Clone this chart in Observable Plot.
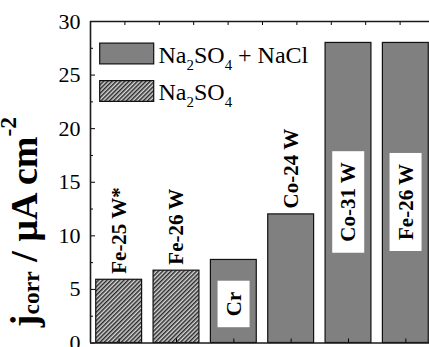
<!DOCTYPE html>
<html>
<head>
<meta charset="utf-8">
<script src="https://cdn.jsdelivr.net/npm/d3@7"></script>
<script src="https://cdn.jsdelivr.net/npm/@observablehq/plot@0.6"></script>
<style>
  html, body { margin: 0; padding: 0; background: #fff; }
  #wrap { position: relative; width: 429px; height: 347px; overflow: hidden; }
  #ytitle {
    position: absolute; left: 5px; top: 222px;
    transform: translate(0, -50%) rotate(180deg);
    writing-mode: vertical-rl; white-space: nowrap;
    font: bold 38px "Liberation Serif", serif; line-height: 1; color: #000;
  }
  #ytitle sub, #ytitle sup { font-size: 62%; line-height: 0; }
  #ytitle sub { vertical-align: -0.3em; }
  #ytitle sup { vertical-align: 0.7em; }
</style>
</head>
<body>
<div id="wrap">
  <div id="ytitle"></div>
  <div id="chart"></div>
</div>
<script>
// Corrosion current density of the coatings in the two test solutions
const alloys      = ["Fe-25 W*", "Fe-26 W", "Cr", "Co-24 W", "Co-31 W", "Fe-26 W"];
const solutions   = ["Na_{2}SO_{4}", "Na_{2}SO_{4}", "Na_{2}SO_{4} + NaCl", "Na_{2}SO_{4} + NaCl", "Na_{2}SO_{4} + NaCl", "Na_{2}SO_{4} + NaCl"];
const jcorr       = [5.9, 6.75, 7.75, 12, 28, 28];
const labelInside = [false, false, true, false, true, true];

const legendEntries = ["Na_{2}SO_{4} + NaCl", "Na_{2}SO_{4}"];
const yTicks      = [0, 5, 10, 15, 20, 25, 30];
const yMinorTicks = [2.5, 7.5, 12.5, 17.5, 22.5, 27.5];
const topTicks    = [0.6, 1.2, 1.8, 2.4, 3.0, 3.6, 4.2, 4.8, 5.4];
const yTitle      = "j_{corr} / \u00B5A cm^{-2}";

const bars = alloys.map((name, i) => ({
  name, i, value: jcorr[i], solution: solutions[i], inside: labelInside[i]
}));
const positions = bars.map(d => d.i + 0.5);

const serif = "Liberation Serif";
const SVGNS = "http://www.w3.org/2000/svg";

// split "_{..}" / "^{..}" markup into plain, sub and sup pieces
function pieces(s) {
  const out = [], re = /([_^])\{([^}]*)\}|([^_^]+)/g;
  let m;
  while ((m = re.exec(s))) out.push(m[1] ? { kind: m[1] === "_" ? "sub" : "sup", text: m[2] } : { kind: "", text: m[3] });
  return out;
}

// y-axis title, set as rotated HTML text beside the plot
const title = document.getElementById("ytitle");
for (const p of pieces(yTitle)) {
  if (p.kind) { const el = document.createElement(p.kind); el.textContent = p.text; title.appendChild(el); }
  else title.appendChild(document.createTextNode(p.text));
}

// rectangular swatch for the legend
const swatch = { draw(ctx) { ctx.rect(-27, -10.3, 54, 20.6); } };

const plot = Plot.plot({
  width: 429,
  height: 347,
  marginLeft: 90,
  marginRight: 0,
  marginTop: 21,
  marginBottom: 4.5,
  style: { fontFamily: serif, fontSize: "22px", background: "transparent", color: "#000" },
  x: { domain: [0, 6], range: [90, 434], label: null },
  y: { domain: [0, 30], label: null },
  color: { domain: legendEntries, range: ["#808080", "url(#hatch)"] },
  marks: [
    Plot.rect(bars, {
      x1: d => d.i + 0.1, x2: d => d.i + 0.9, y1: 0, y2: "value",
      fill: "solution", stroke: "#111", strokeWidth: 1.2
    }),
    // labels above the shorter bars
    Plot.text(bars.filter(d => !d.inside), {
      x: d => d.i + 0.5, y: "value", text: "name",
      rotate: -90, textAnchor: "start", lineAnchor: "middle", dy: -6,
      fontWeight: "bold", fontSize: 21, fontFamily: serif, fill: "#000"
    }),
    // labels set in white boxes inside the bars
    Plot.text(bars.filter(d => d.inside), {
      x: d => d.i + 0.5, y: d => d.value * 0.47, text: "name",
      rotate: -90, textAnchor: "middle", lineAnchor: "middle",
      fontWeight: "bold", fontSize: 21, fontFamily: serif, fill: "#000",
      ariaDescription: "inside-label"
    }),
    // legend
    ...legendEntries.map((s, k) => Plot.dot([s], {
      frameAnchor: "top-left", dx: 36.2, dy: 32 + k * 37.5,
      symbol: swatch, r: 10, fill: d => d, stroke: "#111", strokeWidth: 1.2
    })),
    ...legendEntries.map((s, k) => Plot.text([s], {
      frameAnchor: "top-left", dx: 68, dy: 41 + k * 37.5,
      text: d => d, textAnchor: "start", lineAnchor: "bottom",
      fontSize: 24, fontFamily: serif, fill: "#000"
    })),
    // axes with inward ticks
    Plot.axisY({ ticks: yTicks, tickSize: -5, tickPadding: 15, fontSize: 22, fontFamily: serif, label: null }),
    Plot.axisY({ ticks: yMinorTicks, tickSize: -3, tickFormat: () => "", label: null }),
    Plot.axisX({ anchor: "bottom", ticks: positions, tickSize: -4, tickFormat: () => "", label: null }),
    Plot.axisX({ anchor: "top", ticks: topTicks, tickSize: -3, tickFormat: () => "", label: null }),
    // axis lines
    Plot.ruleX([0], { stroke: "#1a1a1a", strokeWidth: 1.6 }),
    Plot.ruleY([0, 30], { stroke: "#1a1a1a", strokeWidth: 1.6 })
  ]
});

document.getElementById("chart").appendChild(plot);
const svg = d3.select(plot);

// diagonal hatch used for the Na2SO4 bars
const defs = svg.insert("defs", ":first-child");
const pat = defs.append("pattern")
  .attr("id", "hatch").attr("patternUnits", "userSpaceOnUse")
  .attr("width", 3).attr("height", 3).attr("patternTransform", "rotate(45)");
pat.append("rect").attr("width", 3).attr("height", 3).attr("fill", "#d6d6d6");
pat.append("line").attr("x1", 0.75).attr("y1", 0).attr("x2", 0.75).attr("y2", 3)
  .attr("stroke", "#2a2a2a").attr("stroke-width", 1.5);

// sub- and superscripts inside the SVG labels
plot.querySelectorAll("text").forEach(t => {
  const s = t.textContent;
  if (!/[_^]\{/.test(s)) return;
  const size = parseFloat(t.parentNode.getAttribute("font-size")) || 22;
  t.textContent = "";
  let shift = 0;
  for (const p of pieces(s)) {
    const span = document.createElementNS(SVGNS, "tspan");
    span.textContent = p.text;
    if (p.kind) {
      const target = p.kind === "sub" ? 0.3 * size : -0.42 * size;
      span.setAttribute("font-size", (0.62 * size).toFixed(1));
      span.setAttribute("dy", (target - shift).toFixed(1));
      shift = target;
    } else {
      if (shift) span.setAttribute("dy", (-shift).toFixed(1));
      shift = 0;
    }
    t.appendChild(span);
  }
});

// white boxes behind the labels placed inside bars
plot.querySelectorAll('g[aria-description="inside-label"] text').forEach(t => {
  const b = t.getBBox();
  const r = document.createElementNS(SVGNS, "rect");
  const padX = 11, padY = 4;
  r.setAttribute("x", b.x - padX);
  r.setAttribute("y", b.y - padY);
  r.setAttribute("width", b.width + 2 * padX);
  r.setAttribute("height", b.height + 2 * padY);
  r.setAttribute("fill", "#fff");
  r.setAttribute("stroke", "none");
  if (t.getAttribute("transform")) r.setAttribute("transform", t.getAttribute("transform"));
  t.parentNode.insertBefore(r, t);
});
</script>
</body>
</html>
